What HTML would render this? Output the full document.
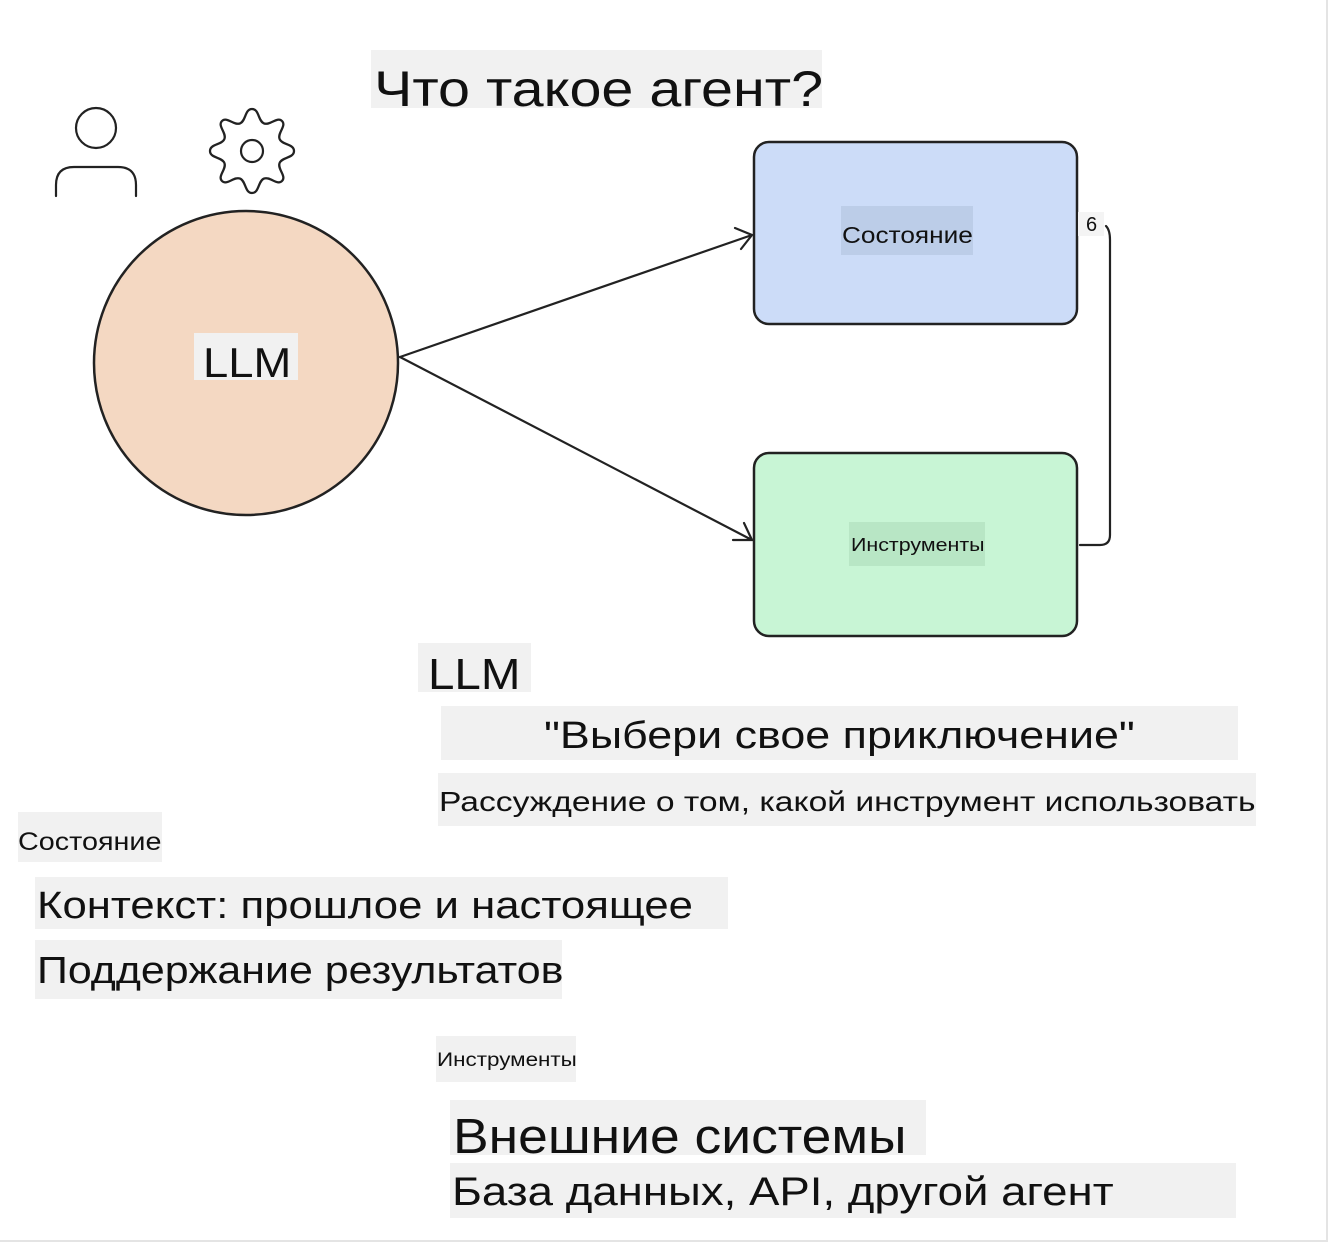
<!DOCTYPE html>
<html><head><meta charset="utf-8"><style>
body{margin:0;width:1334px;height:1242px;background:#fff;position:relative;overflow:hidden;font-family:"Liberation Sans","DejaVu Sans",sans-serif;color:#111}
.t{position:absolute;background:#f1f1f1;white-space:nowrap;display:flex;align-items:center;box-sizing:border-box}
.t span{display:inline-block;transform-origin:left center}
</style></head><body>
<div style="position:absolute;left:0;top:0;width:1326px;height:1240px;border-right:2px solid #e4e4e4;border-bottom:2px solid #e4e4e4"></div>
<svg width="1334" height="1242" style="position:absolute;left:0;top:0">
<circle cx="246" cy="363" r="152" fill="#f4d8c2" stroke="#222" stroke-width="2.5"/>
<rect x="754" y="142" width="323" height="182" rx="15" fill="#ccdcf8" stroke="#222" stroke-width="2.5"/>
<rect x="754" y="453" width="323" height="183" rx="15" fill="#c8f5d5" stroke="#222" stroke-width="2.5"/>
<g fill="none" stroke="#222" stroke-width="2.2" stroke-linecap="round">
<path d="M400 357 L752 235 M735 228 L752 235 L741 249"/>
<path d="M400 357 L752 540 M733 540 L752 540 L744 523"/>
<path d="M1080 545 L1100 545 Q1110 545 1110 535 L1110 240 Q1110 230 1106 226"/>
<circle cx="96" cy="128" r="20"/>
<path d="M56 196 L56 185 Q56 167 74 167 L118 167 Q136 167 136 185 L136 196"/>
<circle cx="252" cy="151" r="11"/>
<path transform="translate(252 151) scale(1.2) translate(-252 -145)" stroke-width="1.9" d="M252 110 c6 0 5 10 10 12 c5 2 11-6 15-2 c4 4-4 10-2 15 c2 5 12 4 12 10 c0 6-10 5-12 10 c-2 5 6 11 2 15 c-4 4-10-4-15-2 c-5 2-4 12-10 12 c-6 0-5-10-10-12 c-5-2-11 6-15 2 c-4-4 4-10 2-15 c-2-5-12-4-12-10 c0-6 10-5 12-10 c2-5-6-11-2-15 c4-4 10 4 15 2 c5-2 4-12 10-12z"/>
</g>
</svg>
<div class="t" style="left:371px;top:50px;width:451px;height:58px;font-size:50px;padding-left:3px;padding-top:20px"><span style="transform:scaleX(1.15)">Что такое агент?</span></div>
<div class="t" style="left:194px;top:333px;width:104px;height:47px;font-size:42px;padding-left:9px;padding-top:12px"><span style="transform:scaleX(1.08)">LLM</span></div>
<div class="t" style="left:841px;top:206px;width:132px;height:49px;font-size:23px;background:#bccde8;padding-left:1px;padding-top:10px"><span style="transform:scaleX(1.14)">Состояние</span></div>
<div class="t" style="left:849px;top:522px;width:136px;height:44px;font-size:18px;background:#b8e6c5;padding-left:2px;padding-top:2px"><span style="transform:scaleX(1.19)">Инструменты</span></div>
<div class="t" style="left:1078px;top:212px;width:26px;height:24px;font-size:20px;background:#f4f4f4;padding-left:8px;padding-top:2px">6</div>
<div class="t" style="left:418px;top:643px;width:113px;height:49px;font-size:44px;padding-left:10px;padding-top:14px"><span style="transform:scaleX(1.08)">LLM</span></div>
<div class="t" style="left:441px;top:706px;width:797px;height:54px;font-size:38px;padding-left:103px;padding-top:6px"><span style="transform:scaleX(1.18)">"Выбери свое приключение"</span></div>
<div class="t" style="left:438px;top:773px;width:818px;height:53px;font-size:28px;padding-left:1px;padding-top:4px"><span style="transform:scaleX(1.2)">Рассуждение о том, какой инструмент использовать</span></div>
<div class="t" style="left:18px;top:812px;width:144px;height:50px;font-size:25px;padding-top:10px"><span style="transform:scaleX(1.15)">Состояние</span></div>
<div class="t" style="left:35px;top:877px;width:693px;height:52px;font-size:38px;padding-left:2px;padding-top:6px"><span style="transform:scaleX(1.15)">Контекст: прошлое и настоящее</span></div>
<div class="t" style="left:35px;top:940px;width:527px;height:59px;font-size:38px;padding-left:2px;padding-top:4px"><span style="transform:scaleX(1.13)">Поддержание результатов</span></div>
<div class="t" style="left:436px;top:1036px;width:140px;height:46px;font-size:19px;padding-left:1px;padding-top:4px"><span style="transform:scaleX(1.18)">Инструменты</span></div>
<div class="t" style="left:450px;top:1100px;width:476px;height:55px;font-size:49px;padding-left:3px;padding-top:18px"><span style="transform:scaleX(1.09)">Внешние системы</span></div>
<div class="t" style="left:450px;top:1163px;width:786px;height:55px;font-size:40px;padding-left:2px;padding-top:4px"><span style="transform:scaleX(1.14)">База данных, API, другой агент</span></div>
</body></html>
